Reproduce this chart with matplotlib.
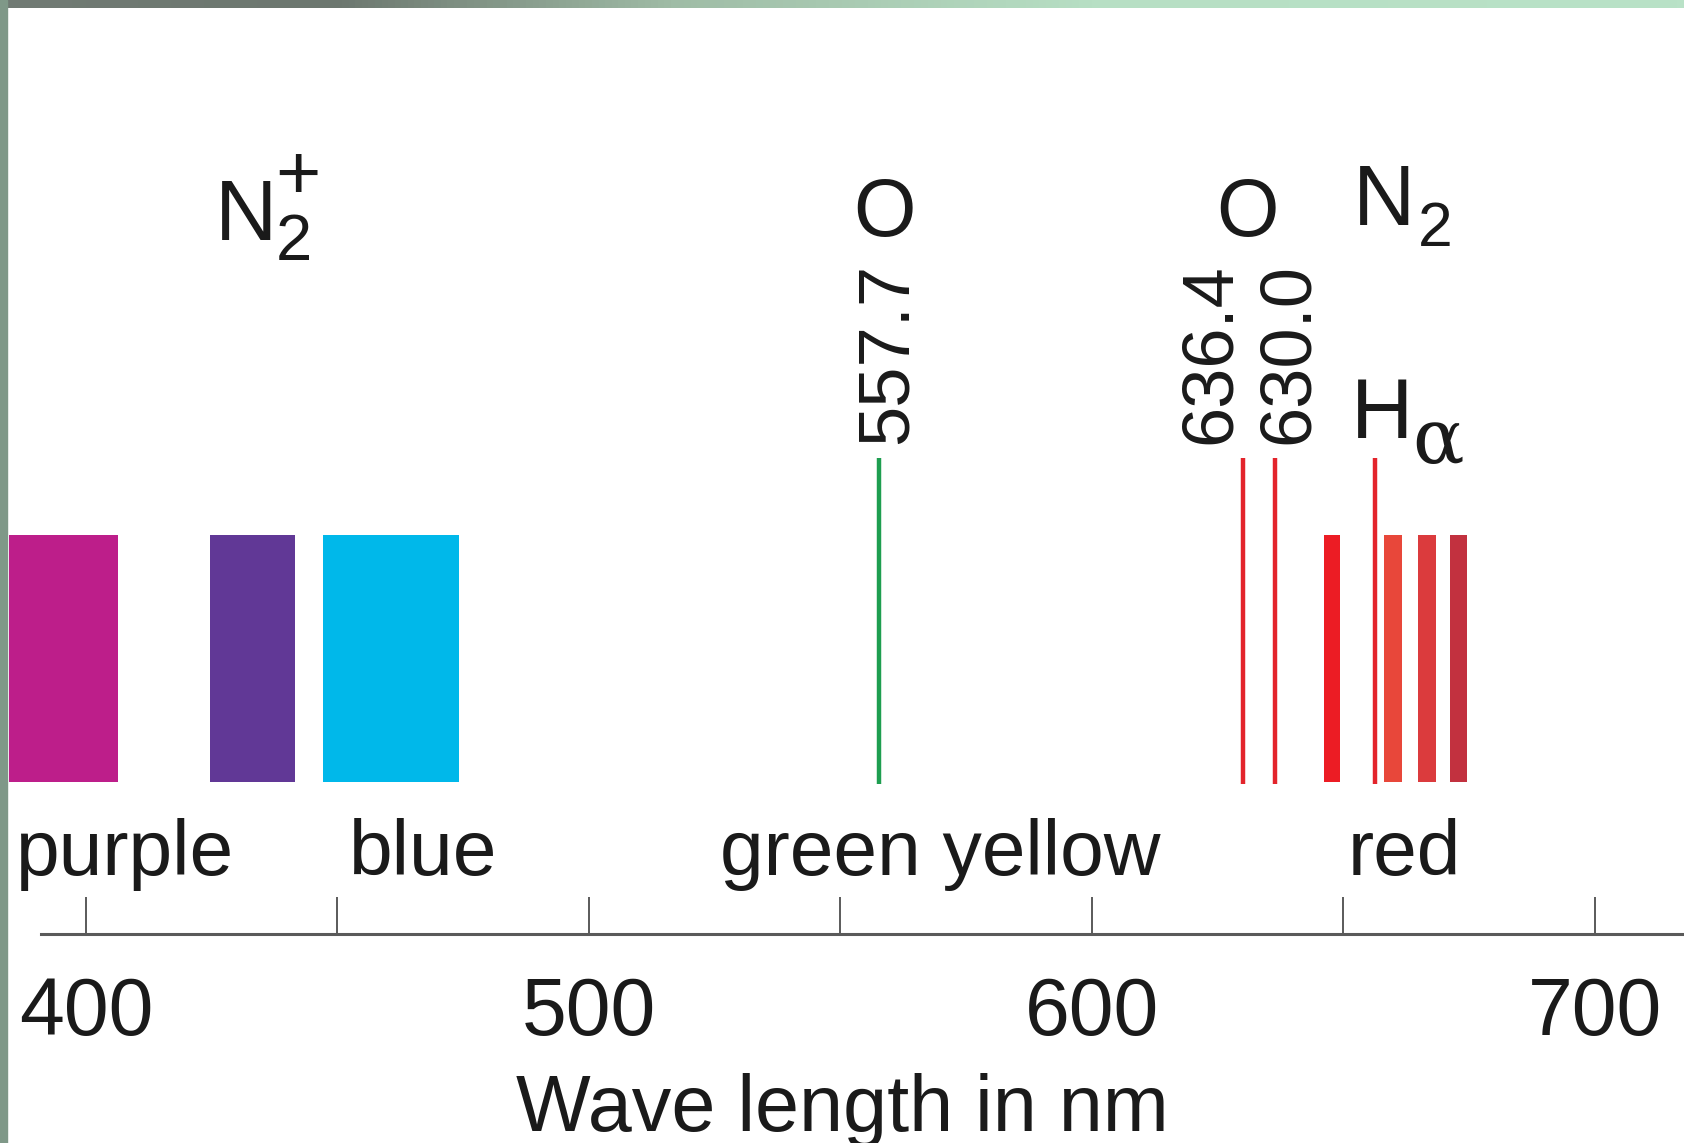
import matplotlib.pyplot as plt
from matplotlib.colors import LinearSegmentedColormap
from matplotlib.patches import Rectangle
import numpy as np

plt.rcParams['font.family'] = ['Liberation Sans', 'DejaVu Sans']

# emission bands (nm): N2+ bands on the left, N2 first positive bands on the right
band_start = [384.7, 424.7, 447.1, 646.1, 658.1, 664.8, 671.2]
band_end = [406.4, 441.5, 474.2, 649.3, 661.6, 668.4, 674.6]
band_colors = ['#BD1E8A', '#613896', '#00B8EA',
               '#EC1C24', '#E8473A', '#DB3B3D', '#C2313F']

# single emission lines (nm)
line_nm = [557.7, 630.0, 636.4, 656.3]
line_colors = ['#1E9E50', '#E3242B', '#E3242B', '#E3242B']

# wavelength labels as printed in the figure
line_texts = ['557.7', '636.4', '630.0']
line_text_nm = [559.5, 623.7, 639.2]

color_names = ['purple', 'blue', 'green yellow', 'red']
color_name_nm = [386.1, 452.3, 526.0, 650.9]

# species labels: text pieces, left edge (nm), baseline row (px), size (pt)
species = ['N', '2', '+', 'O', 'O', 'N', '2', 'H', 'α']
species_nm = [425.6, 437.8, 437.6, 552.5, 624.7, 651.9, 664.8, 651.5, 663.6]
species_row = [240, 260, 199, 236, 236, 225, 246, 438, 463]
species_size = [62, 47, 56, 58, 58, 62, 45, 62, 55]

major_ticks = [400, 500, 600, 700]
minor_ticks = [450, 550, 650]

# layout (pixel rows from top of figure)
W, H = 1684, 1143
AXIS_ROW = 934
BAR_TOP, BAR_BOT = 535, 782
LINE_TOP = 458
px_per_nm = 5.03
x0 = 400 - 86 / px_per_nm
x1 = 400 + (W - 86) / px_per_nm
ink = '#1a1a1a'

fig = plt.figure(figsize=(W / 100, H / 100), dpi=100)
ax = fig.add_axes([0, (H - AXIS_ROW) / H, 1, AXIS_ROW / H])
ax.set_xlim(x0, x1)
ax.set_ylim(AXIS_ROW, 0)

for s, e, c in zip(band_start, band_end, band_colors):
    ax.bar(s, BAR_BOT - BAR_TOP, width=e - s, bottom=BAR_TOP, align='edge',
           color=c, linewidth=0)

for nm, c in zip(line_nm, line_colors):
    ax.vlines(nm, LINE_TOP, BAR_BOT + 2, color=c, linewidth=3.2)

for t, nm in zip(line_texts, line_text_nm):
    ax.text(nm, 444, t, rotation=90, ha='center', va='bottom', fontsize=52,
            color=ink)

for t, nm in zip(color_names, color_name_nm):
    ax.text(nm, 875, t, ha='left', va='baseline', fontsize=56.5, color=ink)

for t, nm, r, fs in zip(species, species_nm, species_row, species_size):
    fam = ['DejaVu Serif'] if t == 'α' else None
    ax.text(nm, r, t, ha='left', va='baseline', fontsize=fs, color=ink,
            family=fam)

for sp in ['left', 'right', 'top']:
    ax.spines[sp].set_visible(False)
ax.spines['bottom'].set_bounds(400 - 45 / px_per_nm, x1)
ax.spines['bottom'].set_color('#5a5a5a')
ax.spines['bottom'].set_linewidth(2.2)
ax.set_yticks([])
ax.set_xticks(major_ticks)
ax.set_xticks(minor_ticks, minor=True)
ax.tick_params(axis='x', which='both', direction='in', length=26.6, width=1.4,
               color='#5a5a5a')
ax.tick_params(axis='x', which='major', pad=30, labelsize=58, labelcolor=ink)
ax.set_xlabel('Wave length in nm', fontsize=57, labelpad=15, color=ink)
ax.patch.set_alpha(0)

# slide border: gradient strip on top, grey-green strip on the left
top = fig.add_axes([0, 1 - 8 / H, 1, 8 / H])
cmap = LinearSegmentedColormap.from_list(
    'border', [(0, '#717b74'), (0.2, '#6c776f'), (0.4, '#9fbca6'),
               (0.65, '#b7dfc4'), (1, '#b9e2c7')])
top.imshow(np.linspace(0, 1, 256)[None, :], aspect='auto', cmap=cmap)
top.axis('off')
fig.add_artist(Rectangle((0, 0), 7 / W, 1, transform=fig.transFigure,
                         color='#7f9888', zorder=5))

fig.savefig('out.png', dpi=100)
